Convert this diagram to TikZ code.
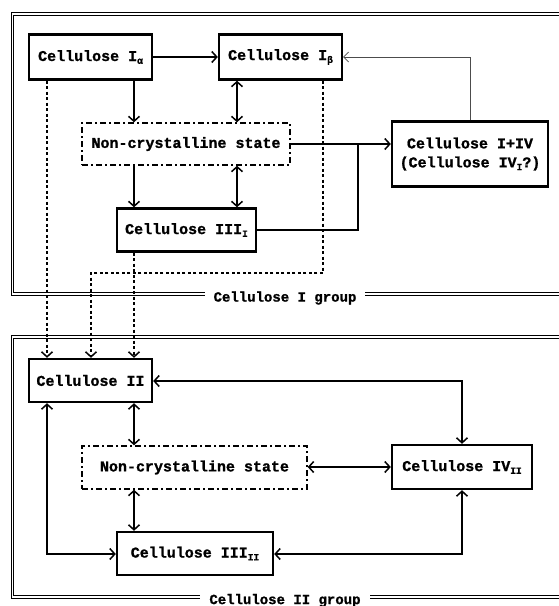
\documentclass[tikz,border=0pt]{standalone}
\usepackage{fontspec}
\setmainfont{Liberation Mono}[BoldFeatures={FakeBold=1.2}]
\usetikzlibrary{arrows.meta}
\newcommand{\mysub}[1]{\raisebox{-0.35ex}{\fontsize{9.5}{10}\selectfont #1}}
\tikzset{
  box/.style={draw, line width=2.4pt, inner sep=0pt, font=\fontsize{15}{19}\selectfont\bfseries, align=center},
  ncbox/.style={draw, line width=1.4pt, dash pattern=on 6pt off 3pt on 2pt off 3pt, inner sep=0pt, font=\fontsize{15}{19}\selectfont\bfseries},
  conn/.style={line width=1.6pt, -{Straight Barb[length=5pt,width=11pt,line width=1.5pt]}},
  bconn/.style={line width=1.6pt, {Straight Barb[length=5pt,width=11pt,line width=1.5pt]}-{Straight Barb[length=5pt,width=11pt,line width=1.5pt]}},
  plain/.style={line width=1.6pt},
  dconn/.style={line width=1.6pt, dash pattern=on 3pt off 2.5pt, -{Straight Barb[length=5pt,width=11pt,line width=1.5pt]}},
  thinconn/.style={line width=0.7pt, draw=black!70, -{Straight Barb[length=5pt,width=10pt,line width=0.7pt]}},
  frame/.style={line width=1pt, double, double distance=1.3pt},
  grouplabel/.style={fill=white, inner xsep=9pt, inner ysep=1pt, font=\fontsize{14}{16}\selectfont\bfseries}
}
\begin{document}
\begin{tikzpicture}[x=1pt,y=-1pt]
\useasboundingbox (0,0) rectangle (559,606);
% frames
\draw[frame] (559,14) -- (12.5,14) -- (12.5,294) -- (559,294);
\draw[frame] (559,337) -- (12.5,337) -- (12.5,597) -- (559,597);
\node[grouplabel] (g1) at (285,298) {Cellulose I group};
\node[grouplabel] (g2) at (285,600.5) {Cellulose II group};
% columns
\coordinate (c47) at (47,0);
\coordinate (c91) at (91,0);
\coordinate (c134) at (134,0);
\coordinate (c237) at (237,0);
\coordinate (c323) at (323,0);
\coordinate (c358) at (358,0);
\coordinate (c470) at (470,0);
% nodes upper
\node[box, minimum width=123pt, minimum height=45pt] (ia) at (90.5,57) {Cellulose I\mysub{α}};
\node[box, minimum width=123pt, minimum height=45pt] (ib) at (280.5,57) {Cellulose I\mysub{β}};
\node[ncbox, minimum width=208pt, minimum height=42pt] (nc1) at (186,144) {Non-crystalline state};
\node[box, minimum width=156pt, minimum height=65pt] (iiv) at (470,154) {Cellulose I+IV\\(Cellulose IV\mysub{I}?)};
\node[box, minimum width=139pt, minimum height=43pt] (iii1) at (186.5,230) {Cellulose III\mysub{I}};
% nodes lower
\node[box, minimum width=123pt, minimum height=43pt] (c2) at (90.5,380.5) {Cellulose II};
\node[ncbox, minimum width=225pt, minimum height=43pt] (nc2) at (194.5,467.5) {Non-crystalline state};
\node[box, minimum width=140pt, minimum height=44pt] (iv2) at (462,467) {Cellulose IV\mysub{II}};
\node[box, minimum width=156pt, minimum height=43pt] (iii2) at (195,553.5) {Cellulose III\mysub{II}};
% upper connectors
\draw[conn] (ia) -- (ib);
\draw[conn] (ia.south -| c134) -- (nc1.north -| c134);
\draw[bconn] (ib.south -| c237) -- (nc1.north -| c237);
\draw[conn] (nc1.south -| c134) -- (iii1.north -| c134);
\draw[bconn] (nc1.south -| c237) -- (iii1.north -| c237);
\draw[conn] (nc1.east) -- (nc1.east -| iiv.west);
\draw[plain] (iii1.east) -| (c358 |- nc1.east);
\draw[thinconn] (iiv.north) |- (ib.east);
% dotted connectors to cellulose II
\coordinate (k1) at (323,273);
\coordinate (k2) at (91,273);
\draw[dconn] (ia.south -| c47) -- (c2.north -| c47);
\draw[dconn] (ib.south -| c323) -- (k1) -- (k2) -- (c2.north -| c91);
\draw[dconn] (iii1.south -| c134) -- (c2.north -| c134);
% lower connectors
\coordinate (r1) at (462,381);
\draw[bconn] (c2.east |- r1) -- (r1) -- (iv2.north);
\draw[bconn] (c2.south -| c134) -- (nc2.north -| c134);
\draw[bconn] (nc2.east |- iv2.west) -- (iv2.west);
\draw[bconn] (nc2.south -| c134) -- (iii2.north -| c134);
\coordinate (r2) at (47,554);
\draw[bconn] (c2.south -| c47) -- (r2) -- (iii2.west |- r2);
\coordinate (r3) at (462,554);
\draw[bconn] (iii2.east |- r3) -- (r3) -- (iv2.south);
\end{tikzpicture}
\end{document}
